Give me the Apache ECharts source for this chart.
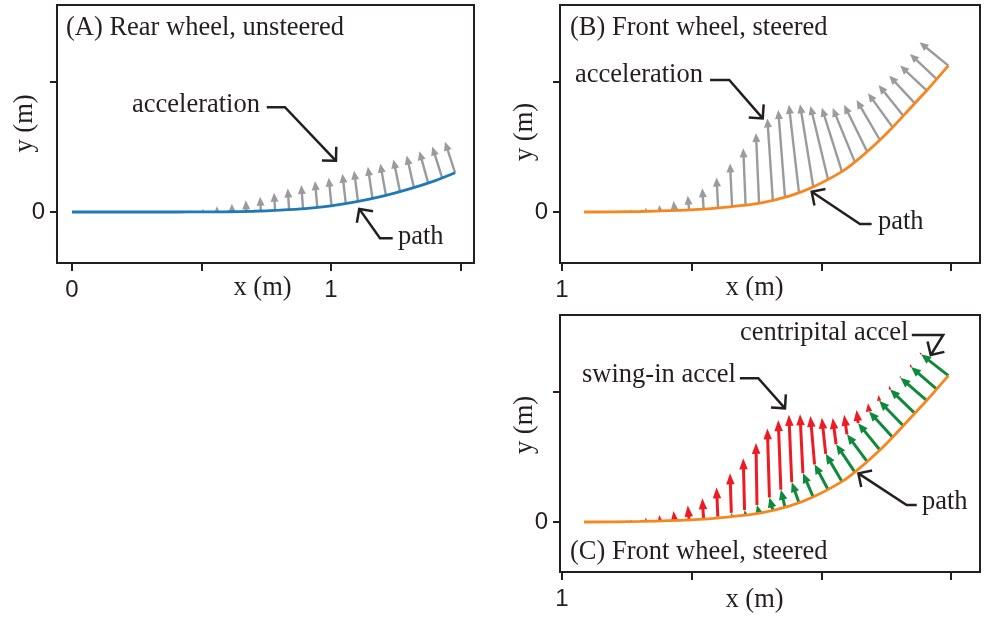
<!DOCTYPE html>
<html><head><meta charset="utf-8">
<script src="https://cdn.jsdelivr.net/npm/echarts@6/dist/echarts.min.js"></script>
<style>html,body{margin:0;padding:0;background:#fff}#c{width:1000px;height:619px}</style>
</head><body><div id="c"></div>
<script>
// ---------- Panel A: rear wheel path and its acceleration arrows ----------
const pathAX = [0, 0.2, 0.4, 0.5, 0.6, 0.7, 0.8, 0.9, 1.0, 1.1, 1.2, 1.3, 1.4, 1.479];
const pathAY = [0, 0, 0, 0.0005, 0.001, 0.003, 0.007, 0.013, 0.024, 0.040, 0.061, 0.088, 0.120, 0.151];
const accABaseX = [0.450,0.506,0.560,0.618,0.673,0.729,0.784,0.838,0.892,0.947,1.002,1.057,1.104,1.160,1.212,1.266,1.320,1.375,1.429,1.479];
const accABaseY = [0.000,0.000,0.001,0.001,0.002,0.004,0.006,0.009,0.012,0.018,0.024,0.033,0.041,0.053,0.064,0.079,0.094,0.112,0.131,0.151];
const accATipX  = [0.449,0.505,0.559,0.617,0.671,0.726,0.780,0.833,0.885,0.938,0.991,1.044,1.089,1.142,1.190,1.241,1.292,1.341,1.391,1.440];
const accATipY  = [0.007,0.013,0.022,0.032,0.045,0.059,0.074,0.090,0.104,0.119,0.132,0.147,0.159,0.174,0.186,0.202,0.217,0.234,0.252,0.270];

// ---------- Panel B: front wheel path and total acceleration ----------
const pathBX = [1.085, 1.301, 1.494, 1.648, 1.764, 1.879, 1.968, 2.084, 2.149, 2.226, 2.276, 2.342, 2.408, 2.490];
const pathBY = [0, 0.002, 0.008, 0.020, 0.034, 0.062, 0.096, 0.158, 0.208, 0.277, 0.327, 0.398, 0.469, 0.563];
const accBBaseX = [1.212,1.267,1.324,1.378,1.434,1.490,1.546,1.602,1.656,1.708,1.760,1.813,1.860,1.914,1.969,2.026,2.079,2.130,2.177,2.226,2.275,2.316,2.361,2.406,2.445,2.490];
const accBBaseY = [0.001,0.002,0.003,0.004,0.006,0.009,0.013,0.016,0.021,0.027,0.033,0.046,0.056,0.074,0.096,0.125,0.157,0.191,0.232,0.277,0.326,0.370,0.418,0.468,0.511,0.563];
const accBTipX  = [1.211,1.266,1.323,1.375,1.430,1.485,1.541,1.596,1.648,1.699,1.748,1.792,1.834,1.875,1.918,1.958,2.002,2.044,2.088,2.136,2.180,2.221,2.262,2.304,2.342,2.379];
const accBTipY  = [0.006,0.010,0.017,0.027,0.042,0.063,0.091,0.133,0.187,0.245,0.304,0.360,0.392,0.412,0.414,0.408,0.401,0.400,0.412,0.431,0.457,0.488,0.524,0.563,0.608,0.653];

// ---------- Panel C: same path; centripetal (green) tips, swing-in goes on to total tip ----------
const centTipX = [null,null,null,null,null,null,null,1.601,1.653,1.704,1.752,1.800,1.844,1.886,1.929,1.974,2.017,2.057,2.099,2.142,2.184,2.223,2.265,2.305,2.346,2.385];
const centTipY = [null,null,null,null,null,null,null,0.020,0.035,0.046,0.065,0.094,0.124,0.153,0.188,0.222,0.262,0.299,0.337,0.380,0.425,0.466,0.510,0.555,0.596,0.645];

// ---------- Tick values ----------
const xTicksA = [0, 0.5, 1, 1.5], xLabelsA = [0, 1];
const xTicksBC = [1, 1.5, 2, 2.5], xLabelsBC = [1];
const yTicks = [0, 0.5], yLabels = [0];

// ---------- Annotation pointer polylines (x0,y0,x1,y1,tipX,tipY) ----------
const notesA = [[0.752,0.403,0.822,0.403,1.019,0.197],[1.238,-0.101,1.189,-0.101,1.109,0.012]];
const notesB = [[1.571,0.508,1.645,0.508,1.774,0.360],[2.194,-0.046,2.149,-0.046,1.963,0.078]];
const notesC = [[2.349,0.719,2.470,0.719,2.422,0.642],[1.686,0.553,1.757,0.553,1.860,0.437],[2.368,0.065,2.329,0.065,2.143,0.187]];

const INK = '#231f20', BLUE = '#1f78b8', ORANGE = '#f7861f', GRAY = '#9a9b9f', RED = '#ed1c24', GREEN = '#0f8a3c';
const SERIF = '"Liberation Serif", "Times New Roman", serif';
const SANS = '"Liberation Sans", Arial, sans-serif';

function zip(a, b) { return a.map((v, i) => [v, b[i]]); }

function arrowRender(color, lw, H, W) {
  return function (params, api) {
    const p0 = api.coord([api.value(0), api.value(1)]);
    const p1 = api.coord([api.value(2), api.value(3)]);
    const dx = p1[0] - p0[0], dy = p1[1] - p0[1];
    const L = Math.hypot(dx, dy) || 0.001;
    const ux = dx / L, uy = dy / L, nx = -uy, ny = ux;
    const h = Math.min(H, Math.max(L, 1.5));
    const w = W * h / H;
    const bx = p1[0] - ux * h, by = p1[1] - uy * h;
    const ch = [];
    if (L > h) ch.push({type: 'line', shape: {x1: p0[0], y1: p0[1], x2: bx + ux, y2: by + uy}, style: {stroke: color, lineWidth: lw}});
    ch.push({type: 'polygon', shape: {points: [[p1[0], p1[1]], [bx + nx * w / 2, by + ny * w / 2], [bx - nx * w / 2, by - ny * w / 2]]}, style: {fill: color}});
    return {type: 'group', children: ch};
  };
}
function noteRender(params, api) {
  const a = api.coord([api.value(0), api.value(1)]);
  const b = api.coord([api.value(2), api.value(3)]);
  const t = api.coord([api.value(4), api.value(5)]);
  const dx = b[0] - t[0], dy = b[1] - t[1], L = Math.hypot(dx, dy);
  const ux = dx / L, uy = dy / L, c = Math.SQRT1_2, s = 14;
  const r1 = [t[0] + s * (ux * c - uy * c), t[1] + s * (ux * c + uy * c)];
  const r2 = [t[0] + s * (ux * c + uy * c), t[1] + s * (-ux * c + uy * c)];
  const st = {stroke: INK, lineWidth: 2.5, fill: null, lineJoin: 'miter'};
  return {type: 'group', children: [
    {type: 'polyline', shape: {points: [a, b, t]}, style: st},
    {type: 'polyline', shape: {points: [r1, t, r2]}, style: st}
  ]};
}
function arrowSeries(gi, rows, color, lw, H, W, z) {
  return {type: 'custom', xAxisIndex: gi, yAxisIndex: gi, z: z, data: rows,
    dimensions: ['x0', 'y0', 'x1', 'y1'], encode: {x: [0, 2], y: [1, 3]},
    renderItem: arrowRender(color, lw, H, W), silent: true};
}
function noteSeries(gi, rows) {
  return {type: 'custom', xAxisIndex: gi, yAxisIndex: gi, z: 6, data: rows,
    encode: {x: [0, 2, 4], y: [1, 3, 5]}, renderItem: noteRender, silent: true};
}
function pathSeries(gi, xs, ys, color) {
  return {type: 'line', xAxisIndex: gi, yAxisIndex: gi, z: 5, data: zip(xs, ys), symbol: 'none',
    smooth: 0.3, lineStyle: {color: color, width: 2.8}, silent: true};
}
function xAxisOf(gi, min, max, ticks, labels) {
  return {type: 'value', gridIndex: gi, min: min, max: max,
    axisLine: {show: true, onZero: false, lineStyle: {color: INK, width: 2}},
    axisTick: {show: true, customValues: ticks, length: 8, lineStyle: {color: INK, width: 2}},
    axisLabel: {show: true, customValues: labels, margin: 15, fontFamily: SANS, fontSize: 24, color: INK},
    splitLine: {show: false}};
}
function yAxisOf(gi, min, max) {
  return {type: 'value', gridIndex: gi, min: min, max: max,
    axisLine: {show: true, onZero: false, lineStyle: {color: INK, width: 2}},
    axisTick: {show: true, customValues: yTicks, length: 7, lineStyle: {color: INK, width: 2}},
    axisLabel: {show: true, customValues: yLabels, margin: 12, fontFamily: SANS, fontSize: 24, color: INK},
    splitLine: {show: false}};
}

const rowsA = accABaseX.map((v, i) => [v, accABaseY[i], accATipX[i], accATipY[i]]);
const rowsB = accBBaseX.map((v, i) => [v, accBBaseY[i], accBTipX[i], accBTipY[i]]);
const rowsCGreen = [], rowsCRed = [];
accBBaseX.forEach((v, i) => {
  if (centTipX[i] == null) {
    rowsCRed.push([v, accBBaseY[i], accBTipX[i], accBTipY[i]]);
  } else {
    rowsCGreen.push([v, accBBaseY[i], centTipX[i], centTipY[i]]);
    rowsCRed.push([centTipX[i], centTipY[i], accBTipX[i], accBTipY[i]]);
  }
});

function txt(s, x, y, align, rot) {
  return {type: 'text', x: x, y: y, rotation: rot || 0, z: 10, silent: true,
    style: {text: s, font: '26.5px ' + SERIF, fill: INK, align: align || 'left', verticalAlign: 'middle'}};
}

const option = {
  animation: false,
  backgroundColor: '#ffffff',
  grid: [
    {left: 57, top: 5, width: 417, height: 258, show: true, borderColor: INK, borderWidth: 2},
    {left: 560, top: 5, width: 420, height: 258, show: true, borderColor: INK, borderWidth: 2},
    {left: 560, top: 315, width: 420, height: 257, show: true, borderColor: INK, borderWidth: 2}
  ],
  xAxis: [
    xAxisOf(0, -0.058, 1.552, xTicksA, xLabelsA),
    xAxisOf(1, 0.9923, 2.612, xTicksBC, xLabelsBC),
    xAxisOf(2, 0.9923, 2.612, xTicksBC, xLabelsBC)
  ],
  yAxis: [
    yAxisOf(0, -0.196, 0.796),
    yAxisOf(1, -0.196, 0.796),
    yAxisOf(2, -0.1923, 0.796)
  ],
  series: [
    arrowSeries(0, rowsA, GRAY, 2.4, 9, 8, 2),
    pathSeries(0, pathAX, pathAY, BLUE),
    noteSeries(0, notesA),
    arrowSeries(1, rowsB, GRAY, 2.4, 9, 8, 2),
    pathSeries(1, pathBX, pathBY, ORANGE),
    noteSeries(1, notesB),
    arrowSeries(2, rowsCRed, RED, 3, 11, 8.5, 2),
    arrowSeries(2, rowsCGreen, GREEN, 3, 10, 8.5, 3),
    pathSeries(2, pathBX, pathBY, ORANGE),
    noteSeries(2, notesC)
  ],
  graphic: [
    txt('(A) Rear wheel, unsteered', 66, 28),
    txt('(B) Front wheel, steered', 570, 28),
    txt('(C) Front wheel, steered', 570, 552),
    txt('acceleration', 132, 105),
    txt('path', 398, 237),
    txt('acceleration', 575, 75.5),
    txt('path', 878, 222),
    txt('centripital accel', 740, 333.5),
    txt('swing-in accel', 582, 375),
    txt('path', 922, 502),
    txt('x (m)', 262.5, 288.5, 'center'),
    txt('x (m)', 754.5, 288.5, 'center'),
    txt('x (m)', 754.5, 600, 'center'),
    txt('y (m)', 25, 123.5, 'center', Math.PI / 2),
    txt('y (m)', 525, 132, 'center', Math.PI / 2),
    txt('y (m)', 525, 425, 'center', Math.PI / 2)
  ]
};
const chart = echarts.init(document.getElementById('c'), null, {renderer: 'canvas'});
chart.setOption(option);
</script></body></html>
